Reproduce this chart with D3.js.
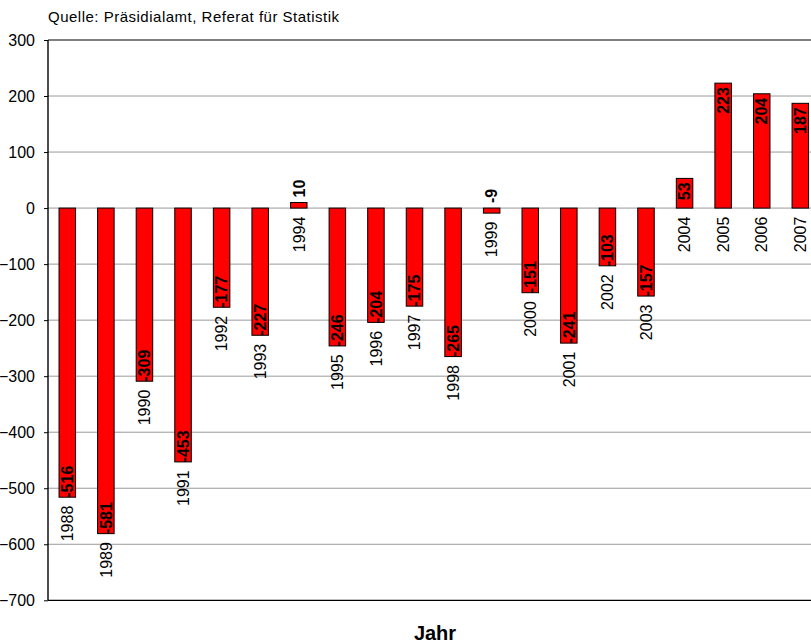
<!DOCTYPE html>
<html>
<head>
<meta charset="utf-8">
<script src="https://cdn.jsdelivr.net/npm/d3@7"></script>
<style>
  html, body { margin: 0; padding: 0; background: #fff; }
  svg { display: block; font-family: "Liberation Sans", Arial, sans-serif; }
</style>
</head>
<body>
<svg id="chart" width="811" height="643"></svg>
<script>
// Wanderungssaldo nach Jahr
const years = ["1988","1989","1990","1991","1992","1993","1994","1995","1996","1997",
               "1998","1999","2000","2001","2002","2003","2004","2005","2006","2007"];
const saldo = [-516,-581,-309,-453,-177,-227,10,-246,-204,-175,
               -265,-9,-151,-241,-103,-157,53,223,204,187];
const yTicks = [300,200,100,0,-100,-200,-300,-400,-500,-600,-700];

const sourceText = "Quelle: Präsidialamt, Referat für Statistik";
const xTitle = "Jahr";

const svg = d3.select("#chart");
const plotLeft = 48, plotTop = 40, plotBottom = 600.3;
const step = 38.58;

const x = d3.scaleBand()
  .domain(years)
  .range([plotLeft, plotLeft + step * years.length])
  .paddingInner(0.572)
  .paddingOuter(0.286);

const y = d3.scaleLinear().domain([-700, 300]).range([plotBottom, plotTop]);

const plotRight = 811 + 2;

// horizontal gridlines
svg.append("g")
  .selectAll("line")
  .data(yTicks.filter(t => t !== 300 && t !== -700))
  .join("line")
  .attr("x1", plotLeft).attr("x2", plotRight)
  .attr("y1", d => y(d)).attr("y2", d => y(d))
  .attr("stroke", "#9a9a9a").attr("stroke-width", 1);

// frame: top and bottom lines
svg.append("line").attr("x1", plotLeft).attr("x2", plotRight)
  .attr("y1", y(300)).attr("y2", y(300)).attr("stroke", "#000").attr("stroke-width", 1.2);
svg.append("line").attr("x1", plotLeft).attr("x2", plotRight)
  .attr("y1", y(-700)).attr("y2", y(-700)).attr("stroke", "#000").attr("stroke-width", 1.2);

// y axis
const yAxis = d3.axisLeft(y).tickValues(yTicks).tickSize(4).tickPadding(9);
const ga = svg.append("g").attr("transform", `translate(${plotLeft},0)`).call(yAxis);
ga.select(".domain").remove();
ga.selectAll(".tick line").attr("stroke", "#000");
ga.selectAll(".tick text")
  .attr("font-size", 16).attr("fill", "#000")
  .attr("font-family", "Liberation Sans, Arial, sans-serif");
svg.append("line").attr("x1", plotLeft).attr("x2", plotLeft)
  .attr("y1", y(300)).attr("y2", y(-700)).attr("stroke", "#000").attr("stroke-width", 1.4);

const data = years.map((yr, i) => ({ yr, v: saldo[i] }));

// bars
svg.append("g")
  .selectAll("rect")
  .data(data)
  .join("rect")
  .attr("x", d => x(d.yr))
  .attr("width", x.bandwidth())
  .attr("y", d => y(Math.max(0, d.v)))
  .attr("height", d => Math.abs(y(d.v) - y(0)))
  .attr("fill", "#ff0000")
  .attr("stroke", "#000")
  .attr("stroke-width", 1);

const cx = d => x(d.yr) + x.bandwidth() / 2;

// year labels below each bar (or below the zero line)
svg.append("g")
  .selectAll("text")
  .data(data)
  .join("text")
  .attr("transform", d => `translate(${cx(d)},${y(Math.min(0, d.v)) + 8.5}) rotate(-90)`)
  .attr("text-anchor", "end")
  .attr("dy", "0.36em")
  .attr("font-size", 16)
  .attr("fill", "#000")
  .text(d => d.yr);

// value labels
svg.append("g")
  .selectAll("text")
  .data(data)
  .join("text")
  .attr("transform", d => {
    let py;
    if (Math.abs(d.v) < 30) { py = y(Math.max(0, d.v)) - 5; }
    else if (d.v < 0) { py = y(d.v) + 0.5; }
    else { py = y(d.v) + 4; }
    return `translate(${cx(d)},${py}) rotate(-90)`;
  })
  .attr("text-anchor", d => (Math.abs(d.v) < 30 || d.v < 0) ? "start" : "end")
  .attr("dy", "0.36em")
  .attr("font-size", 16)
  .attr("font-weight", "bold")
  .attr("fill", "#000")
  .text(d => d.v);

// source note
svg.append("text")
  .attr("x", plotLeft).attr("y", 22)
  .attr("font-size", 15)
  .attr("letter-spacing", "0.5px")
  .attr("fill", "#000")
  .text(sourceText);

// x axis title
svg.append("text")
  .attr("x", 435).attr("y", 639.5)
  .attr("text-anchor", "middle")
  .attr("font-size", 20)
  .attr("font-weight", "bold")
  .attr("fill", "#000")
  .text(xTitle);
</script>
</body>
</html>
